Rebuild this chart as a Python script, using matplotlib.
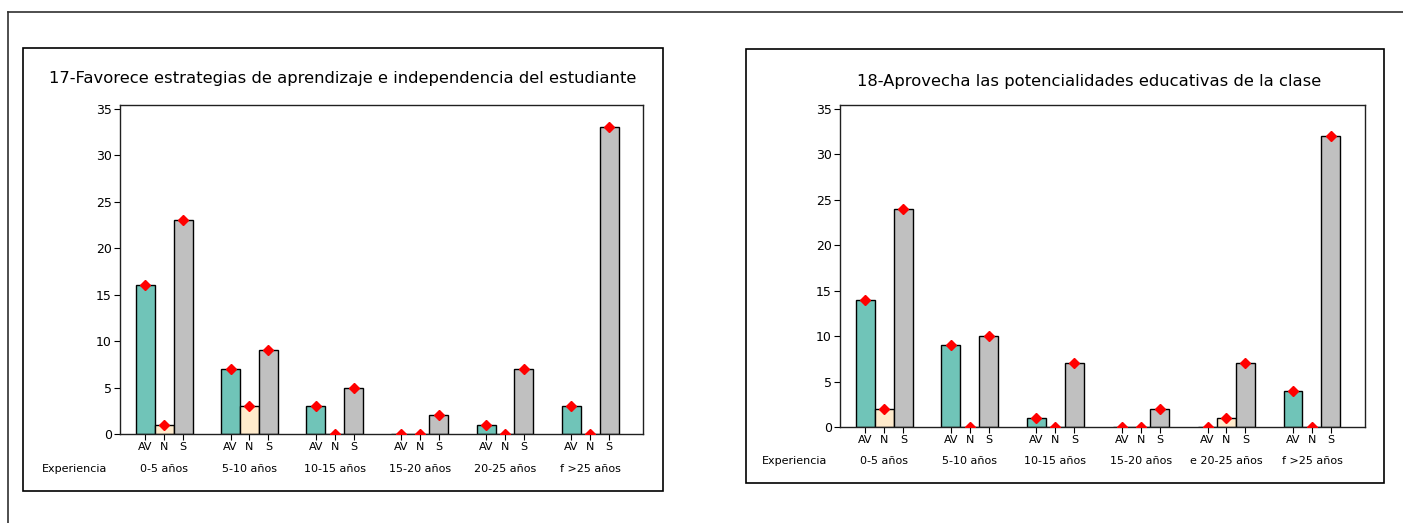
import matplotlib
matplotlib.use("Agg")
import matplotlib.pyplot as plt
from matplotlib.patches import Rectangle
from matplotlib.lines import Line2D
import numpy as np

plt.rcParams['font.family'] = ['DejaVu Sans']

grupos = ['0-5 años', '5-10 años', '10-15 años', '15-20 años', '20-25 años', 'f >25 años']
grupos2 = ['0-5 años', '5-10 años', '10-15 años', '15-20 años', 'e 20-25 años', 'f >25 años']
series = ['AV', 'N', 'S']

titulo1 = '17-Favorece estrategias de aprendizaje e independencia del estudiante'
av1 = [16, 7, 3, 0, 1, 3]
n1 = [1, 3, 0, 0, 0, 0]
s1 = [23, 9, 5, 2, 7, 33]

titulo2 = '18-Aprovecha las potencialidades educativas de la clase'
av2 = [14, 9, 1, 0, 0, 4]
n2 = [2, 0, 0, 0, 1, 0]
s2 = [24, 10, 7, 2, 7, 32]

colores = ['#70C4B8', '#FFEBCC', '#C0C0C0']

W, H = 1403, 523
fig = plt.figure(figsize=(W / 100, H / 100), dpi=100)


def px(x0, y0, x1, y1):
    # caja en pixeles (arriba-izquierda) -> fracciones de figura
    return [x0 / W, 1 - y1 / H, (x1 - x0) / W, (y1 - y0) / H]


# marco exterior (solo izquierda y arriba visibles)
fig.add_artist(Line2D([8 / W, 8 / W], [0, 1 - 12 / H], transform=fig.transFigure,
                      color='#303030', lw=1.2))
fig.add_artist(Line2D([8 / W, 1], [1 - 12 / H, 1 - 12 / H], transform=fig.transFigure,
                      color='#303030', lw=1.2))


def panel(caja, ejes, titulo, tit_xy, valores, cats, exp_x):
    b = px(*caja)
    fig.add_artist(Rectangle((b[0], b[1]), b[2], b[3], transform=fig.transFigure,
                             fill=False, edgecolor='black', lw=1.2))
    ax = fig.add_axes(px(*ejes))
    w = 0.222
    x = np.arange(len(cats))
    ticks, labels = [], []
    for k, (vals, col) in enumerate(zip(valores, colores)):
        pos = x + (k - 1) * w
        ax.bar(pos, vals, width=w, color=col, edgecolor='black', linewidth=1.0, zorder=2)
        ax.plot(pos, vals, 'D', color='red', markersize=5.5, zorder=3)
        ticks += list(pos)
        labels += [series[k]] * len(cats)
    orden = np.argsort(ticks)
    ax.set_xticks(np.array(ticks)[orden])
    ax.set_xticklabels(np.array(labels)[orden], fontsize=8)
    ax.set_xlim(-0.52, 5.62)
    ax.set_ylim(0, 35.4)
    ax.set_yticks(range(0, 36, 5))
    ax.tick_params(axis='y', labelsize=9, length=4, width=0.8, pad=2)
    ax.tick_params(axis='x', length=4, width=0.8, pad=2)
    for sp in ax.spines.values():
        sp.set_linewidth(1.0)
        sp.set_color('#202020')
    for i, c in enumerate(cats):
        ax.text(i, -0.105, c, transform=ax.get_xaxis_transform(), ha='center', va='center',
                fontsize=8)
    ax.text(exp_x, -0.105, 'Experiencia', transform=ax.get_xaxis_transform(),
            ha='center', va='center', fontsize=8)
    fig.text(tit_xy[0] / W, 1 - tit_xy[1] / H, titulo, ha='center', va='center', fontsize=11.8)
    return ax


panel((23, 48, 663, 491), (120, 105, 643, 434), titulo1, (343, 79),
      [av1, n1, s1], grupos, -1.05)
panel((746, 49, 1384, 483), (840, 105, 1365, 427), titulo2, (1089, 82),
      [av2, n2, s2], grupos2, -1.05)

fig.savefig('out.png', dpi=100)
